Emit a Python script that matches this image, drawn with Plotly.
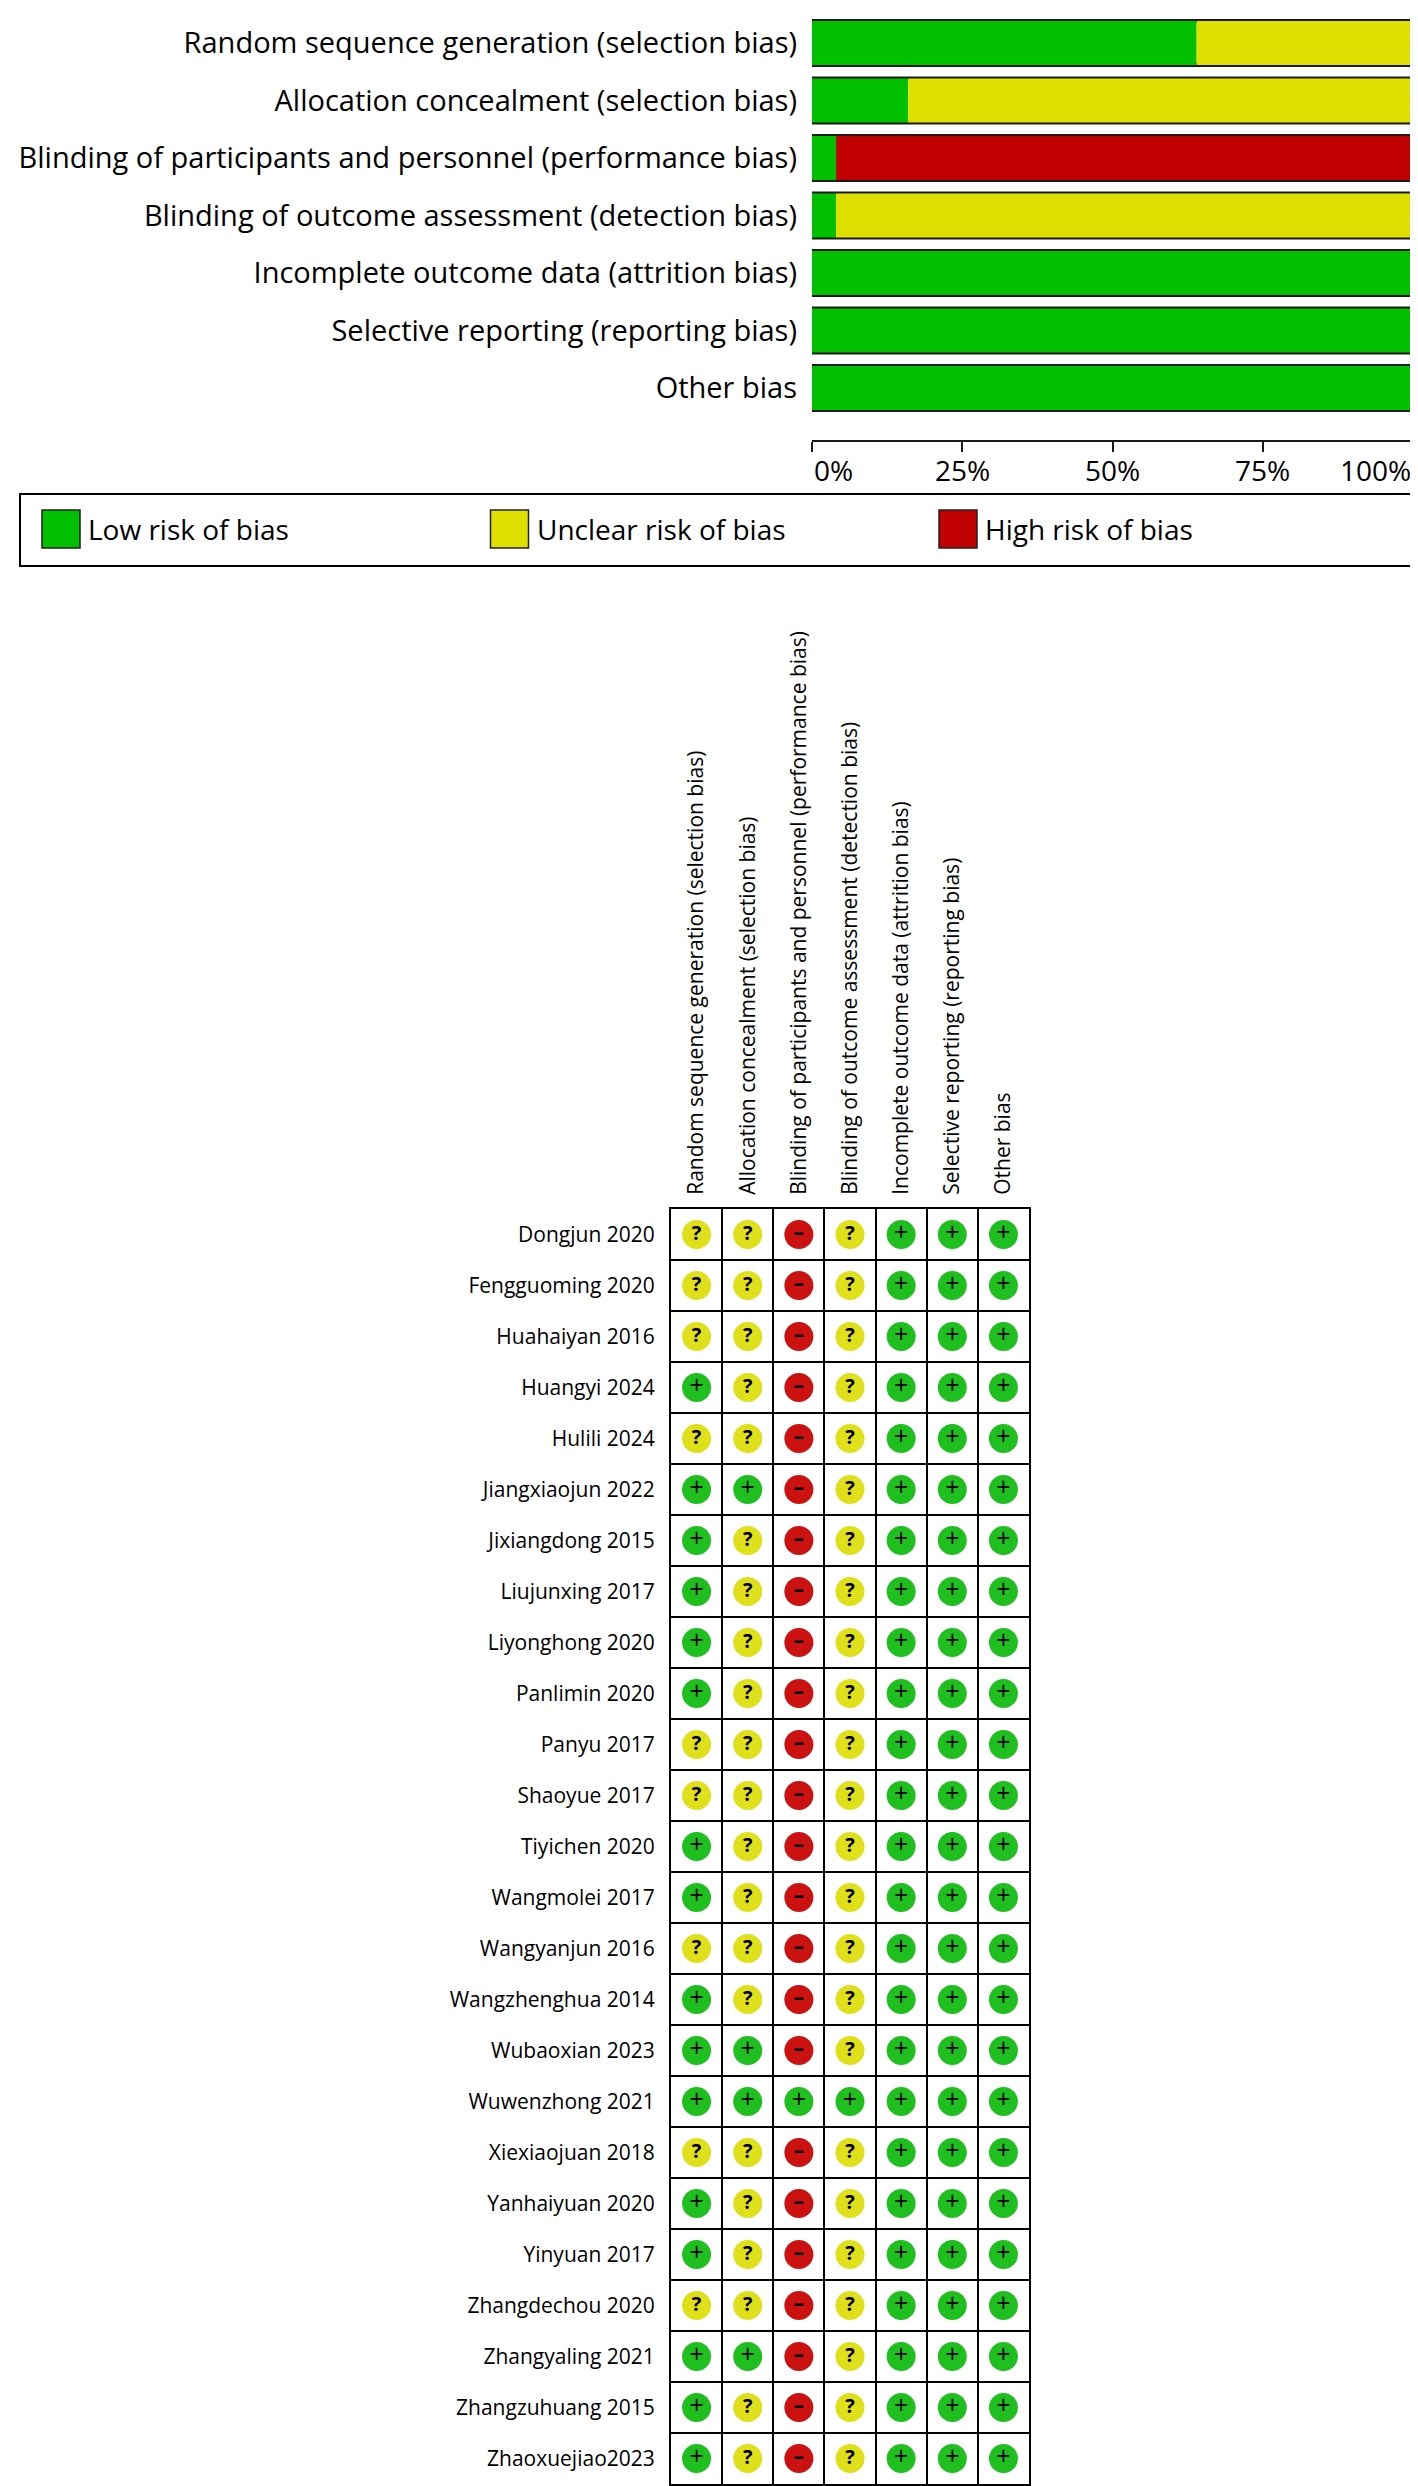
import plotly.graph_objects as go

W, H = 1418, 2486

DOMAINS = [
    "Random sequence generation (selection bias)",
    "Allocation concealment (selection bias)",
    "Blinding of participants and personnel (performance bias)",
    "Blinding of outcome assessment (detection bias)",
    "Incomplete outcome data (attrition bias)",
    "Selective reporting (reporting bias)",
    "Other bias",
]
# percent of studies per judgement, one value per domain
LOW_PCT = [64, 16, 4, 4, 100, 100, 100]
UNCLEAR_PCT = [36, 84, 0, 96, 0, 0, 0]
HIGH_PCT = [0, 0, 96, 0, 0, 0, 0]

TICK_VALS = [0, 25, 50, 75, 100]
TICK_TEXT = ["0%", "25%", "50%", "75%", "100%"]

LEGEND_LABELS = ["Low risk of bias", "Unclear risk of bias", "High risk of bias"]

STUDIES = [
    "Dongjun 2020", "Fengguoming 2020", "Huahaiyan 2016", "Huangyi 2024",
    "Hulili 2024", "Jiangxiaojun 2022", "Jixiangdong 2015", "Liujunxing 2017",
    "Liyonghong 2020", "Panlimin 2020", "Panyu 2017", "Shaoyue 2017",
    "Tiyichen 2020", "Wangmolei 2017", "Wangyanjun 2016", "Wangzhenghua 2014",
    "Wubaoxian 2023", "Wuwenzhong 2021", "Xiexiaojuan 2018", "Yanhaiyuan 2020",
    "Yinyuan 2017", "Zhangdechou 2020", "Zhangyaling 2021", "Zhangzuhuang 2015",
    "Zhaoxuejiao2023",
]
# one character per domain: + low, ? unclear, - high
JUDGEMENTS = [
    "??-?+++", "??-?+++", "??-?+++", "+?-?+++", "??-?+++",
    "++-?+++", "+?-?+++", "+?-?+++", "+?-?+++", "+?-?+++",
    "??-?+++", "??-?+++", "+?-?+++", "+?-?+++", "??-?+++",
    "+?-?+++", "++-?+++", "+++++++", "??-?+++", "+?-?+++",
    "+?-?+++", "??-?+++", "++-?+++", "+?-?+++", "+?-?+++",
]

BAR_COLORS = {"low": "#00c000", "unclear": "#e0e000", "high": "#c00000"}
DOT_COLORS = {"+": "#1fbf1f", "?": "#e0e01a", "-": "#cc1111"}
DOT_TEXT = {"+": "+", "?": "<b>?</b>", "-": "<b>–</b>"}
DOT_SIZE = {"+": 25, "?": 20, "-": 21}
FONT = "Open Sans"


def py(p):
    # pixel row (from top) -> paper y
    return 1 - p / H


fig = go.Figure()

# ---- summary bars: a white full-length bar with a thick dark edge goes first,
# the coloured segments are laid over it so only the outer edge stays visible
totals = [a + b + c for a, b, c in zip(LOW_PCT, UNCLEAR_PCT, HIGH_PCT)]
fig.add_trace(go.Bar(y=DOMAINS, x=totals, base=[0] * len(DOMAINS), orientation="h", width=0.765,
                     marker=dict(color="white", line=dict(color="#1a1a1a", width=4)),
                     xaxis="x", yaxis="y", showlegend=False, hoverinfo="skip"))
bases_unclear = LOW_PCT
bases_high = [a + b for a, b in zip(LOW_PCT, UNCLEAR_PCT)]
for vals, base, key in [(LOW_PCT, [0] * len(DOMAINS), "low"),
                        (UNCLEAR_PCT, bases_unclear, "unclear"),
                        (HIGH_PCT, bases_high, "high")]:
    fig.add_trace(go.Bar(y=DOMAINS, x=vals, base=base, orientation="h", width=0.765,
                         marker=dict(color=BAR_COLORS[key], line=dict(width=0)),
                         xaxis="x", yaxis="y", showlegend=False, hoverinfo="skip"))

# ---- risk-of-bias grid
for sym in ["+", "?", "-"]:
    xs, ys = [], []
    for r, row in enumerate(JUDGEMENTS):
        for c, j in enumerate(row):
            if j == sym:
                xs.append(c + 0.5)
                ys.append(r + 0.5)
    fig.add_trace(go.Scatter(x=xs, y=ys, mode="markers+text", xaxis="x2", yaxis="y2",
                             marker=dict(size=29, color=DOT_COLORS[sym], line=dict(width=0)),
                             text=[DOT_TEXT[sym]] * len(xs), textposition="middle center",
                             textfont=dict(size=DOT_SIZE[sym], color="black", family=FONT),
                             showlegend=False, hoverinfo="skip"))

axis_y = py(433)
grid_axis = dict(showgrid=False, zeroline=False, showline=True, mirror=True,
                 linecolor="black", linewidth=2, ticks="",
                 minor=dict(tick0=0, dtick=1, showgrid=True, gridcolor="black", gridwidth=2))

fig.update_layout(
    width=W, height=H, margin=dict(l=0, r=0, t=0, b=0),
    paper_bgcolor="white", plot_bgcolor="white",
    font=dict(family=FONT, color="black"),
    barmode="overlay", showlegend=False,
    xaxis=dict(domain=[804 / W, 1405 / W], range=[0, 100], anchor="free", position=axis_y,
               showline=True, linecolor="#1a1a1a", linewidth=2, showgrid=False, zeroline=False,
               ticks="outside", ticklen=10, tickwidth=2, tickcolor="#1a1a1a",
               tickvals=TICK_VALS, showticklabels=False),
    yaxis=dict(domain=[py(408.75), py(6.25)], type="category", categoryarray=DOMAINS,
               autorange="reversed", showgrid=False, zeroline=False, showline=False,
               ticks="", ticklabelstandoff=14, tickfont=dict(size=29)),
    xaxis2=dict(domain=[663 / W, 1021 / W], range=[0, 7], anchor="y2", side="top",
                tickvals=[i + 0.5 for i in range(len(DOMAINS))], ticktext=DOMAINS,
                tickangle=-90, tickfont=dict(size=21), ticklabelstandoff=8, **grid_axis),
    yaxis2=dict(domain=[py(2476), py(1201)], range=[len(STUDIES), 0], anchor="x2",
                tickvals=[i + 0.5 for i in range(len(STUDIES))], ticktext=STUDIES,
                tickfont=dict(size=21), ticklabelstandoff=10, **grid_axis),
)

# percent labels under the summary axis, ends aligned to the axis ends
for v, t in zip(TICK_VALS, TICK_TEXT):
    anchor = "left" if v == TICK_VALS[0] else ("right" if v == TICK_VALS[-1] else "center")
    fig.add_annotation(x=v, y=py(441), xref="x", yref="paper", text=t, showarrow=False,
                       xanchor=anchor, yanchor="top", font=dict(size=28))

# legend box with large swatches
fig.add_shape(type="rect", xref="paper", yref="paper", x0=12 / W, x1=1406 / W,
              y0=py(558), y1=py(486), line=dict(color="black", width=2))
for i, (label, key) in enumerate(zip(LEGEND_LABELS, ["low", "unclear", "high"])):
    left = 34 + i * 448.5
    fig.add_shape(type="rect", xref="paper", yref="paper", x0=left / W, x1=(left + 38) / W,
                  y0=py(540), y1=py(502), fillcolor=BAR_COLORS[key],
                  line=dict(color="#222", width=1.5))
    fig.add_annotation(x=(left + 44) / W, y=py(521), xref="paper", yref="paper", text=label,
                       showarrow=False, xanchor="left", yanchor="middle", font=dict(size=28))

fig.write_html("out.html")
